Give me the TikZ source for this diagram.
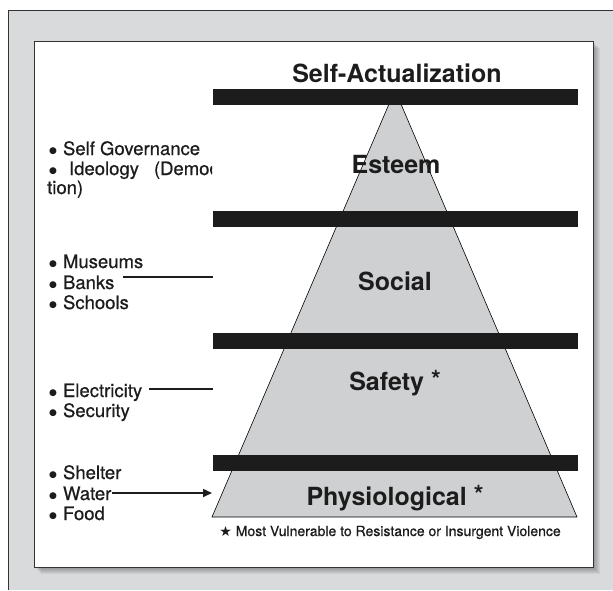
\documentclass[tikz,border=0pt]{standalone}
\usepackage{fontspec}
\setmainfont{TeX Gyre Heros}
\newfontfamily\itemfont[FakeBold=0.6]{TeX Gyre Heros}
\newfontfamily\symfont{DejaVu Sans}
\usetikzlibrary{arrows.meta}
\definecolor{framegray}{HTML}{D9DADC}
\definecolor{pyrgray}{HTML}{CFD0D2}
\definecolor{bardark}{HTML}{1C1C1C}
\definecolor{edgedark}{HTML}{333333}
\newcommand{\bul}{{\symfont\fontsize{9}{9}\selectfont\raisebox{1.5pt}{●}}\hspace{6pt}}

\begin{document}
\begin{tikzpicture}[x=1pt,y=-1pt]
\tikzstyle{level}=[font=\fontsize{25}{30}\selectfont\bfseries, anchor=base, inner sep=0pt, text=bardark]
\tikzstyle{item}=[font=\itemfont\fontsize{18.5}{20}\selectfont, anchor=base west, inner sep=0pt, text=bardark]
\tikzstyle{bar}=[fill=bardark]
\tikzstyle{pointer}=[line width=1.6pt, draw=bardark]
\useasboundingbox (0,0) rectangle (613,590);
% frame
\fill[white] (0,0) rectangle (613,590);
\fill[framegray] (8,10) rectangle (613,590);
\draw[edgedark, line width=1pt] (8,590) -- (8,10) -- (613,10);
% panel and its shadow
\foreach \i in {1,...,7}
  \fill[black, opacity=0.05] (34+\i,41+\i) rectangle (593+\i,567+\i);
\draw[edgedark, fill=white, line width=0.9pt] (34,41) rectangle (593,567);
% pyramid
\coordinate (apex) at (395,90);
\coordinate (baseL) at (212,517);
\coordinate (baseR) at (577,517);
\draw[fill=pyrgray, line width=0.6pt] (apex) -- (baseR) -- (baseL) -- cycle;
\foreach \y in {89,211,333,455}
  \fill[bar] (213,\y) rectangle (578,\y+15.5);
% levels
\node[level] (selfact) at (397,82) {Self-Actualization};
\node[level] (esteem) at (396,173) {Esteem};
\node[level] (social) at (395,290) {Social};
\node[level] (safety) at (395,390) {Safety \raisebox{2pt}{*}};
\node[level] (physio) at (395,505) {Physiological \raisebox{2pt}{*}};
% footnote
\node[anchor=base, inner sep=0pt, font=\itemfont\fontsize{14}{16}\selectfont, text=bardark] (note) at (390,536)
  {{\symfont\bfseries\fontsize{14}{14}\selectfont ★}\hspace{4pt}Most Vulnerable to Resistance or Insurgent Violence};
% left lists
\begin{scope}
\clip (34,41) rectangle (212,567);
\node[item] (govern) at (49,155) {\bul Self Governance};
\node[item] (ideology) at (49,175) {{\symfont\fontsize{9}{9}\selectfont\raisebox{1.5pt}{●}}\hspace{12pt}Ideology\hspace{15pt}(Democratiza-};
\node[item] (tion) at (47,194) {tion)};
\end{scope}
\node[item] (museums) at (49,268) {\bul Museums};
\node[item] (banks) at (49,289) {\bul Banks};
\node[item] (schools) at (49,309) {\bul Schools};
\node[item] (electric) at (49,397) {\bul Electricity};
\node[item] (security) at (49,417) {\bul Security};
\node[item] (shelter) at (49,479) {\bul Shelter};
\node[item] (water) at (49,500) {\bul Water};
\node[item] (food) at (49,520) {\bul Food};
% pointers
\coordinate (socialin) at (213,277);
\coordinate (safetyin) at (213,389);
\coordinate (physin) at (212,493);
\draw[pointer, shorten <=8pt] (banks.east |- socialin) -- (socialin);
\draw[pointer, shorten <=7pt] (electric.east |- safetyin) -- (safetyin);
\draw[pointer, -{Triangle[length=9pt,width=8pt]}] (water.east |- physin) -- (physin);
\end{tikzpicture}
\end{document}
